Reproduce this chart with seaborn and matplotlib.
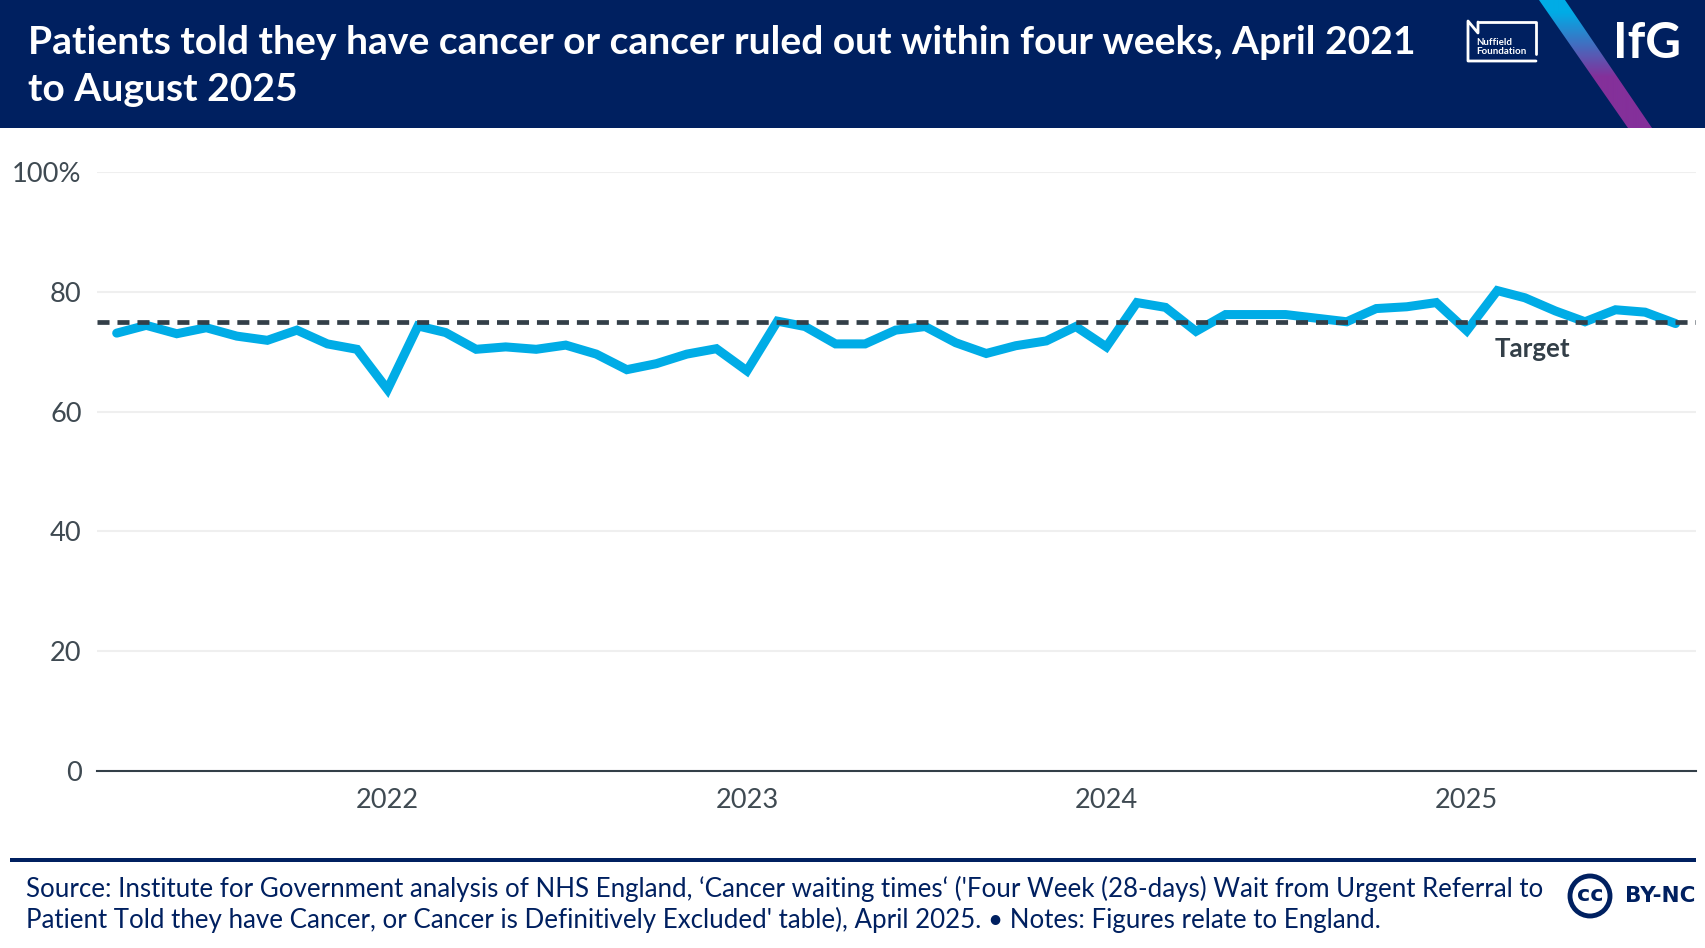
import matplotlib

matplotlib.use("Agg")
import matplotlib.dates as mdates
import matplotlib.pyplot as plt
import numpy as np
import pandas as pd
import seaborn as sns
from matplotlib.patches import Circle, Polygon, Rectangle

W, H = 1706, 948
NAVY = "#002060"
BLUE = "#00ACE6"
PURPLE = "#84309A"
DARK = "#333F48"

# Monthly values, April 2021 to August 2025
values = [
    73.1, 74.4, 73.0, 74.0, 72.6, 71.9, 73.6, 71.3, 70.4,
    63.7, 74.3, 73.2, 70.4, 70.8, 70.4, 71.1, 69.6, 67.0, 68.0, 69.6, 70.5,
    66.8, 75.1, 74.2, 71.3, 71.3, 73.6, 74.2, 71.5, 69.7, 71.0, 71.8, 74.2,
    70.8, 78.2, 77.4, 73.4, 76.2, 76.2, 76.2, 75.6, 75.0, 77.2, 77.5, 78.2,
    73.5, 80.2, 79.0, 76.8, 75.0, 77.0, 76.6, 74.7,
]
months = pd.date_range("2021-04-01", periods=len(values), freq="MS")
target = 75
y_ticks = [0, 20, 40, 60, 80, 100]
y_labels = ["0", "20", "40", "60", "80", "100%"]
x_years = [2022, 2023, 2024, 2025]

title = "Patients told they have cancer or cancer ruled out within four weeks, April 2021\nto August 2025"
source = (
    "Source: Institute for Government analysis of NHS England, ‘Cancer waiting times‘ "
    "('Four Week (28-days) Wait from Urgent Referral to\n"
    "Patient Told they have Cancer, or Cancer is Definitively Excluded' table), April 2025. "
    "• Notes: Figures relate to England."
)

sns.set_theme(style="white")
plt.rcParams["font.family"] = ["Lato", "DejaVu Sans"]

fig = plt.figure(figsize=(W / 100, H / 100), dpi=100, facecolor="white")

# furniture layer, in image pixels
bg = fig.add_axes([0, 0, 1, 1])
bg.set_xlim(0, W)
bg.set_ylim(H, 0)
bg.axis("off")
bg.add_patch(Rectangle((0, 0), W, 128, color=NAVY, lw=0))
bg.add_patch(Rectangle((10, 858), 1686, 4, color=NAVY, lw=0))
bg.text(28, 66, title, color="white", fontsize=28.1, fontweight="bold",
        va="center", linespacing=1.42)
bg.text(26, 904.5, source, color=NAVY, fontsize=18.6, va="center", linespacing=1.24)

# IfG stripe
stripe = Polygon([(1539, 0), (1565, 0), (1652, 128), (1628, 128)], closed=True,
                 transform=bg.transData, fc="none", ec="none")
bg.add_patch(stripe)
c0, c1 = np.array(matplotlib.colors.to_rgb(BLUE)), np.array(matplotlib.colors.to_rgb(PURPLE))
t = np.clip((np.linspace(0, 128, 128) - 12) / 65, 0, 1)[:, None, None]
grad = c0[None, None, :] * (1 - t) + c1[None, None, :] * t
im = bg.imshow(grad, extent=(1530, 1660, 128, 0), aspect="auto", zorder=2)
im.set_clip_path(stripe)
bg.set_xlim(0, W)
bg.set_ylim(H, 0)
bg.text(1647, 43, "IfG", color="white", fontsize=35.5, fontweight="bold", ha="center", va="center")

# Nuffield mark
bg.plot([1478, 1536, 1536], [22, 22, 54], color="white", lw=2)
bg.plot([1536, 1468, 1468, 1478, 1478], [61, 61, 21, 33, 22], color="white", lw=2)
bg.text(1476, 47, "Nuffield\nFoundation", color="white", fontsize=7, fontweight="bold",
        va="center", linespacing=0.95)

# CC mark
bg.add_patch(Circle((1590, 896), 20, fc="white", ec=NAVY, lw=3.5))
bg.text(1590, 895, "cc", color=NAVY, fontsize=16, fontweight="bold", ha="center", va="center",
        family="DejaVu Sans")
bg.text(1696, 896, "BY-NC", color=NAVY, fontsize=15.5, fontweight="bold", ha="right", va="center",
        family="DejaVu Sans")

# chart
ax = fig.add_axes([97 / W, 1 - 771 / H, (1696 - 97) / W, (771 - 172) / H])
ax.patch.set_alpha(0)
df = pd.DataFrame({"month": months, "value": values})
sns.lineplot(data=df, x="month", y="value", ax=ax, color=BLUE, lw=6.5, zorder=3,
             solid_capstyle="round", solid_joinstyle="miter")
ax.axhline(target, color=DARK, lw=3.4, ls=(0, (2.55, 1.68)), zorder=4)

px_per_day = (1348 - 356) * (W / 1568) / (pd.Timestamp("2025-01-01") - pd.Timestamp("2022-01-01")).days
left_days = (387.5 - 97) / px_per_day
right_days = (1696 - 387.5) / px_per_day
ax.set_xlim(pd.Timestamp("2022-01-01") - pd.Timedelta(days=left_days),
            pd.Timestamp("2022-01-01") + pd.Timedelta(days=right_days))
ax.set_ylim(0, 100)

ax.set_yticks(y_ticks, y_labels)
ax.set_xticks([pd.Timestamp(f"{y}-01-01") for y in x_years], [str(y) for y in x_years])
ax.xaxis.set_major_formatter(mdates.DateFormatter("%Y"))
ax.set_xlabel("")
ax.set_ylabel("")
ax.grid(axis="y", color="#EFEFEF", lw=1.5)
ax.grid(axis="x", visible=False)
ax.set_axisbelow(True)
sns.despine(ax=ax, left=True, top=True, right=True)
ax.spines["bottom"].set_color(DARK)
ax.spines["bottom"].set_linewidth(1.5)
ax.tick_params(axis="y", length=0, pad=11, labelsize=19.6, labelcolor="#3F4A52")
ax.tick_params(axis="x", length=0, pad=12, labelsize=19.6, labelcolor="#3F4A52")
for lab in ax.get_yticklabels():
    lab.set_ha("right")

ax.text(pd.Timestamp("2025-03-09"), 70.5, "Target", color=DARK, fontsize=18.6, fontweight="bold",
        ha="center", va="center")

fig.savefig("out.png", dpi=100)
